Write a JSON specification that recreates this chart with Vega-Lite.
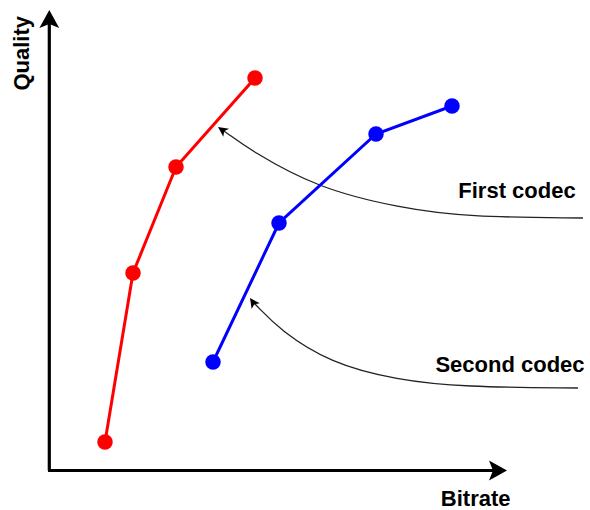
{
  "$schema": "https://vega.github.io/schema/vega-lite/v6.json",
  "width": 590,
  "height": 510,
  "padding": 0,
  "autosize": {"type": "none"},
  "config": {"view": {"stroke": null}},
  "datasets": {
    "series": [
      {"codec": "First codec", "bitrate": 105, "quality": 68},
      {"codec": "First codec", "bitrate": 133, "quality": 237},
      {"codec": "First codec", "bitrate": 176, "quality": 343},
      {"codec": "First codec", "bitrate": 255, "quality": 432},
      {"codec": "Second codec", "bitrate": 213, "quality": 148},
      {"codec": "Second codec", "bitrate": 279, "quality": 287},
      {"codec": "Second codec", "bitrate": 376, "quality": 376},
      {"codec": "Second codec", "bitrate": 452, "quality": 404}
    ],
    "axesLines": [
      {"x": 49.3, "y": 39.5, "x2": 49.3, "y2": 490},
      {"x": 48, "y": 39.5, "x2": 495, "y2": 39.5}
    ],
    "bigHeads": [
      {"x": 49.3, "y": 500, "angle": 0},
      {"x": 507, "y": 39.5, "angle": 90}
    ],
    "smallHeads": [
      {"x": 218, "y": 383, "angle": 305},
      {"x": 250, "y": 212, "angle": 325}
    ],
    "curves": [
      {"curve": "a", "i": 0, "x": 583, "y": 292},
      {"curve": "a", "i": 1, "x": 467, "y": 293},
      {"curve": "a", "i": 2, "x": 400, "y": 302},
      {"curve": "a", "i": 3, "x": 317, "y": 322},
      {"curve": "a", "i": 4, "x": 250, "y": 360},
      {"curve": "a", "i": 5, "x": 227, "y": 377},
      {"curve": "a", "i": 6, "x": 221, "y": 381},
      {"curve": "b", "i": 0, "x": 578, "y": 122},
      {"curve": "b", "i": 1, "x": 463, "y": 123},
      {"curve": "b", "i": 2, "x": 397, "y": 130},
      {"curve": "b", "i": 3, "x": 330, "y": 147},
      {"curve": "b", "i": 4, "x": 280, "y": 180},
      {"curve": "b", "i": 5, "x": 258, "y": 203},
      {"curve": "b", "i": 6, "x": 252, "y": 209}
    ],
    "labels": [
      {"text": "First codec", "x": 517, "y": 311.7, "angle": 0},
      {"text": "Second codec", "x": 510, "y": 138.3, "angle": 0},
      {"text": "Bitrate", "x": 475.7, "y": 4.5, "angle": 0},
      {"text": "Quality", "x": 29.3, "y": 456.7, "angle": 270}
    ]
  },
  "layer": [
    {
      "data": {"name": "axesLines"},
      "mark": {"type": "rule", "color": "black", "strokeWidth": 3.2},
      "encoding": {
        "x": {"field": "x", "type": "quantitative", "scale": {"domain": [0, 590], "nice": false, "zero": false}, "axis": null},
        "y": {"field": "y", "type": "quantitative", "scale": {"domain": [0, 510], "nice": false, "zero": false}, "axis": null},
        "x2": {"field": "x2"},
        "y2": {"field": "y2"}
      }
    },
    {
      "data": {"name": "bigHeads"},
      "mark": {"type": "point", "shape": "M0,0 L0.55,1 L0,0.78 L-0.55,1 Z", "filled": true, "color": "black", "opacity": 1, "size": 1296},
      "encoding": {
        "x": {"field": "x", "type": "quantitative"},
        "y": {"field": "y", "type": "quantitative"},
        "angle": {"field": "angle", "type": "quantitative", "scale": null}
      }
    },
    {
      "data": {"name": "curves"},
      "mark": {"type": "line", "interpolate": "basis", "color": "#222", "strokeWidth": 1.3},
      "encoding": {
        "x": {"field": "x", "type": "quantitative"},
        "y": {"field": "y", "type": "quantitative"},
        "detail": {"field": "curve"},
        "order": {"field": "i", "type": "quantitative"}
      }
    },
    {
      "data": {"name": "smallHeads"},
      "mark": {"type": "point", "shape": "M0,0 L0.5,1 L0,0.75 L-0.5,1 Z", "filled": true, "color": "black", "opacity": 1, "size": 400},
      "encoding": {
        "x": {"field": "x", "type": "quantitative"},
        "y": {"field": "y", "type": "quantitative"},
        "angle": {"field": "angle", "type": "quantitative", "scale": null}
      }
    },
    {
      "data": {"name": "series"},
      "mark": {"type": "line", "strokeWidth": 3},
      "encoding": {
        "x": {"field": "bitrate", "type": "quantitative"},
        "y": {"field": "quality", "type": "quantitative"},
        "color": {"field": "codec", "type": "nominal", "scale": {"domain": ["First codec", "Second codec"], "range": ["#ff0000", "#0000ff"]}, "legend": null}
      }
    },
    {
      "data": {"name": "series"},
      "mark": {"type": "point", "filled": true, "opacity": 1, "size": 240},
      "encoding": {
        "x": {"field": "bitrate", "type": "quantitative"},
        "y": {"field": "quality", "type": "quantitative"},
        "color": {"field": "codec", "type": "nominal", "legend": null}
      }
    },
    {
      "data": {"name": "labels"},
      "mark": {"type": "text", "font": "Liberation Sans", "fontWeight": "bold", "fontSize": 22, "align": "center", "baseline": "alphabetic", "color": "black"},
      "encoding": {
        "x": {"field": "x", "type": "quantitative"},
        "y": {"field": "y", "type": "quantitative"},
        "text": {"field": "text"},
        "angle": {"field": "angle", "type": "quantitative", "scale": null}
      }
    }
  ]
}
